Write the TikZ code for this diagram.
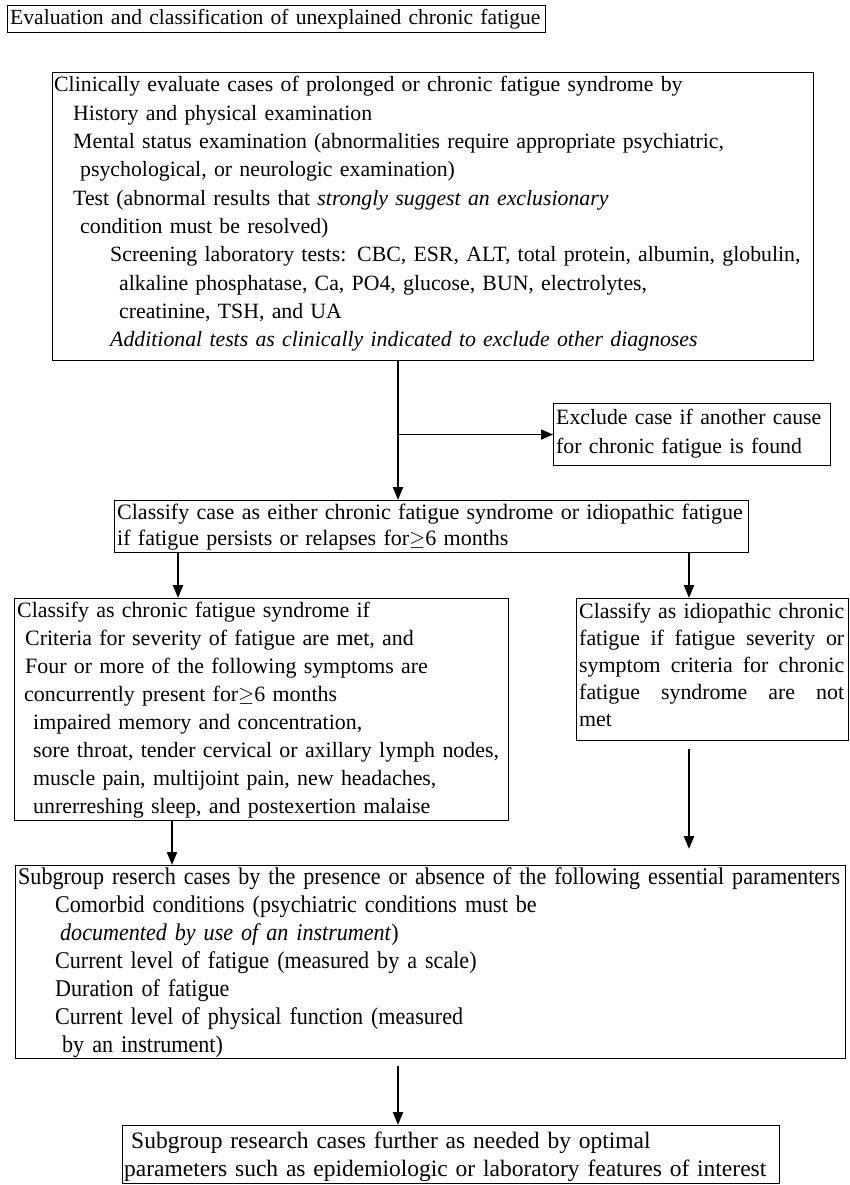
\documentclass[tikz,border=0pt]{standalone}
\usepackage{fontspec}
\setmainfont{Liberation Serif}
\newfontfamily\condfont[FakeStretch=0.92]{Liberation Serif}
\usetikzlibrary{arrows.meta}
\newcommand\bxf[3]{\fontsize{#1}{#2}\selectfont\spaceskip=#3em\relax\xspaceskip=#3em\relax\parindent=0pt\relax}
\newcommand\ind[1]{\hspace*{#1pt}}
\tikzset{
  box/.style={draw, line width=1.1pt, rectangle, inner sep=0pt, anchor=north west},
  txt/.style={anchor=base west, inner sep=0pt, align=left, text width=#1},
  arr/.style={-{Triangle[length=13pt,width=10pt]}, line width=2.4pt},
  arrh/.style={-{Triangle[length=12pt,width=10pt]}, line width=1.8pt},
}
\begin{document}
\begin{tikzpicture}[x=1pt,y=-1pt]
\useasboundingbox (0,0) rectangle (850,1185);
\coordinate (mx) at (398,0);
\coordinate (lx) at (178,0);
\coordinate (lx2) at (172,0);
\coordinate (rx) at (689,0);
% title
\node[box, minimum width=538pt, minimum height=27pt] (title) at (7,5) {};
\node[txt=600pt, font=\bxf{21.6}{28}{0.55}] (titlet) at (10,25) {Evaluation and classification of unexplained chronic fatigue};
% box 1
\node[box, minimum width=761pt, minimum height=288pt] (b1) at (52,72) {};
\node[txt=800pt, font=\bxf{21.8}{28.3}{0.45}] (b1t) at (54,92) {%
Clinically evaluate cases of prolonged or chronic fatigue syndrome by\\
\ind{19}History and physical examination\\
\ind{19}Mental status examination (abnormalities require appropriate psychiatric,\\
\ind{26}psychological, or neurologic examination)\\
\ind{19}Test (abnormal results that \textit{strongly suggest an exclusionary}\\
\ind{26}condition must be resolved)\\
\ind{56}Screening laboratory tests: CBC, ESR, ALT, total protein, albumin, globulin,\\
\ind{65}alkaline phosphatase, Ca, PO4, glucose, BUN, electrolytes,\\
\ind{65}creatinine, TSH, and UA\\
\ind{56}\textit{Additional tests as clinically indicated to exclude other diagnoses}};
% exclude box
\node[box, minimum width=277pt, minimum height=62pt] (ex) at (553,403) {};
\node[txt=300pt, font=\bxf{21.8}{29}{0.5}] (ext) at (556,424) {%
Exclude case if another cause\\
for chronic fatigue is found};
% box 3
\node[box, minimum width=634pt, minimum height=52pt] (b3) at (114,500) {};
\node[txt=700pt, font=\bxf{22}{26}{0.5}] (b3t) at (117,519) {%
Classify case as either chronic fatigue syndrome or idiopathic fatigue\\
if fatigue persists or relapses for$\geq$6 months};
% box 4
\node[box, minimum width=494pt, minimum height=222pt] (b4) at (14,598) {};
\node[txt=560pt, font=\bxf{21.9}{28}{0.42}] (b4t) at (17,617) {%
Classify as chronic fatigue syndrome if\\
\ind{8}Criteria for severity of fatigue are met, and\\
\ind{8}Four or more of the following symptoms are\\
\ind{7}concurrently present for$\geq$6 months\\
\ind{16}impaired memory and concentration,\\
\ind{16}sore throat, tender cervical or axillary lymph nodes,\\
\ind{16}muscle pain, multijoint pain, new headaches,\\
\ind{16}unrerreshing sleep, and postexertion malaise};
% box 5
\node[box, minimum width=272pt, minimum height=142pt] (b5) at (576,598) {};
\node[txt=266pt, font=\bxf{21.9}{27}{0.4}] (b5t) at (579,618) {%
\makebox[265pt][l]{Classify\hfill as\hfill idiopathic\hfill chronic}\\
\makebox[265pt][l]{fatigue\hfill if\hfill fatigue\hfill severity\hfill or}\\
\makebox[265pt][l]{symptom\hfill criteria\hfill for\hfill chronic}\\
\makebox[265pt][l]{fatigue\hfill syndrome\hfill are\hfill not}\\
met};
% subgroup box
\node[box, minimum width=830pt, minimum height=193pt] (sg) at (15,865) {};
\node[txt=900pt, font={\condfont\bxf{24}{28}{0.32}}] (sgt) at (18,884) {%
Subgroup reserch cases by the presence or absence of the following essential paramenters\\
\ind{37}Comorbid conditions (psychiatric conditions must be\\
\ind{42}\textit{documented by use of an instrument})\\
\ind{37}Current level of fatigue (measured by a scale)\\
\ind{37}Duration of fatigue\\
\ind{37}Current level of physical function (measured\\
\ind{44}by an instrument)};
% final box
\node[box, minimum width=657pt, minimum height=58pt] (fb) at (122,1125) {};
\node[txt=700pt, font=\bxf{23.5}{28}{0.65}] (fbt) at (124,1148) {%
\ind{7}Subgroup research cases further as needed by optimal\\
parameters such as epidemiologic or laboratory features of interest};
% connectors
\draw[arr] (b1.south -| mx) -- (b3.north -| mx);
\draw[arrh] (ex.west -| mx) -- (ex.west);
\draw[arr] (b3.south -| lx) -- (b4.north -| lx);
\draw[arr] (b3.south -| rx) -- (b5.north -| rx);
\draw[arr] (b4.south -| lx2) -- (sg.north -| lx2);
\draw[arr, shorten <=8pt, shorten >=16pt] (b5.south -| rx) -- (sg.north -| rx);
\draw[arr, shorten <=7pt] (sg.south -| mx) -- (fb.north -| mx);
\end{tikzpicture}
\end{document}
